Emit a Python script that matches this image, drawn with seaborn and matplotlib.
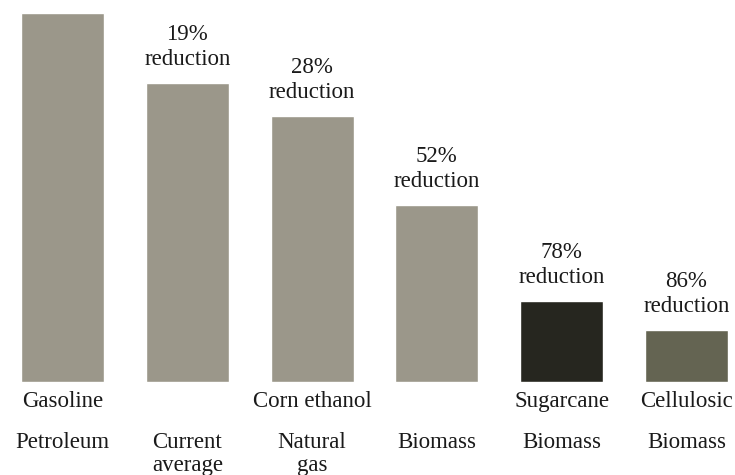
import matplotlib
matplotlib.use("Agg")
import matplotlib.pyplot as plt
import seaborn as sns
import pandas as pd

# Relative lifecycle greenhouse-gas emissions (gasoline = 100)
fuels = ["Gasoline", "", "Corn ethanol", "", "Sugarcane", "Cellulosic"]
sources = ["Petroleum", "Current\naverage", "Natural\ngas", "Biomass", "Biomass", "Biomass"]
reductions = [0, 19, 28, 52, 78, 86]
colors = ["#9b978a", "#9b978a", "#9b978a", "#9b978a", "#26261f", "#646452"]

emissions = [100 - r for r in reductions]
keys = [f"{s}|{i}" for i, s in enumerate(sources)]
df = pd.DataFrame({"key": keys, "emissions": emissions})

sns.set_theme(style="white")
plt.rcParams["font.family"] = ["Liberation Serif", "DejaVu Serif"]

fig = plt.figure(figsize=(7.35, 4.75), dpi=100)
W, H = 735, 475
bar_bottom, bar_top = 382, 13
ax = fig.add_axes([0, (H - bar_bottom) / H, 1, (bar_bottom - bar_top) / H])

sns.barplot(data=df, x="key", y="emissions", hue="key", palette=colors,
            width=0.665, legend=False, ax=ax, saturation=1)

ax.set_xlim((0 - 62.5) / 124.8, (W - 62.5) / 124.8)
ax.set_ylim(0, 100)
ax.axis("off")

fs = 16.5
txt = "#1a1a1a"
common = dict(textcoords="offset pixels", ha="center", va="baseline",
              fontsize=fs, color=txt, annotation_clip=False)
for i, (val, red) in enumerate(zip(emissions, reductions)):
    if red > 0:
        ax.annotate(f"{red}%", xy=(i, val), xytext=(0, 43), **common)
        ax.annotate("reduction", xy=(i, val), xytext=(0, 18), **common)
    if fuels[i]:
        ax.annotate(fuels[i], xy=(i, 0), xytext=(0, -25), **common)
    for k, line in enumerate(sources[i].split("\n")):
        ax.annotate(line, xy=(i, 0), xytext=(0, -66 - 23 * k), **common)

fig.savefig("out.png", dpi=100)
